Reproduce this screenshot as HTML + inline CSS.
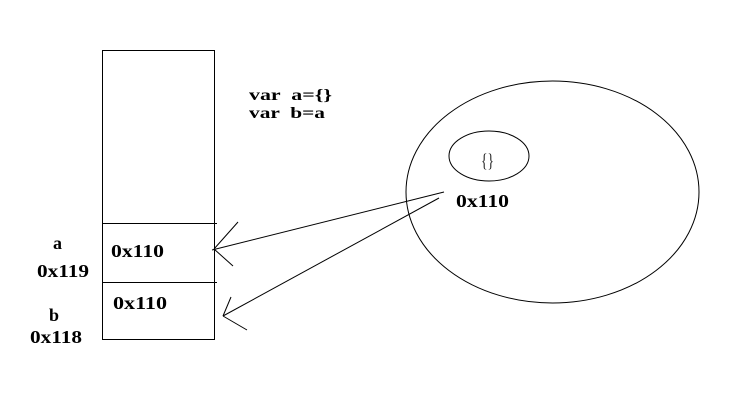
<!DOCTYPE html>
<html>
<head>
<meta charset="utf-8">
<style>
html,body{margin:0;padding:0;background:#fff;}
svg{display:block;}
</style>
</head>
<body>
<svg width="751" height="410" viewBox="0 0 751 410" xmlns="http://www.w3.org/2000/svg">
<rect x="0" y="0" width="751" height="410" fill="#fff"/>
<!-- stack -->
<rect x="102.5" y="50.5" width="112" height="289" fill="none" stroke="#000" stroke-width="1"/>
<line x1="102" y1="223.5" x2="217" y2="223.5" stroke="#000" stroke-width="1"/>
<line x1="102" y1="282.5" x2="217" y2="282.5" stroke="#000" stroke-width="1"/>

<!-- heap -->
<ellipse cx="552.5" cy="192" rx="146.5" ry="111" fill="none" stroke="#000" stroke-width="1"/>
<ellipse cx="489" cy="156" rx="40" ry="25" fill="none" stroke="#000" stroke-width="1"/>

<!-- arrows -->
<g stroke="#000" stroke-width="1" fill="none">
<line x1="444" y1="192" x2="212" y2="250"/>
<line x1="214" y1="249" x2="238" y2="222"/>
<line x1="214" y1="249" x2="233" y2="266"/>
<line x1="439" y1="198" x2="223" y2="316"/>
<line x1="223" y1="316" x2="231" y2="297"/>
<line x1="223" y1="316" x2="247" y2="330"/>
</g>

<!-- texts -->
<g font-family="'Liberation Serif', 'DejaVu Serif', serif" font-weight="bold" fill="#000">
<text x="249" y="100" font-size="16" textLength="83" lengthAdjust="spacingAndGlyphs" xml:space="preserve">var  a={}</text>
<text x="249" y="118" font-size="16" textLength="76" lengthAdjust="spacingAndGlyphs" xml:space="preserve">var  b=a</text>

<text x="111" y="257" font-size="18" textLength="53" lengthAdjust="spacingAndGlyphs">0x110</text>
<text x="113" y="309" font-size="18" textLength="54" lengthAdjust="spacingAndGlyphs">0x110</text>

<text x="53" y="249" font-size="18">a</text>
<text x="37" y="277" font-size="18" textLength="52" lengthAdjust="spacingAndGlyphs">0x119</text>
<text x="49" y="321" font-size="18">b</text>
<text x="30" y="343" font-size="18" textLength="52" lengthAdjust="spacingAndGlyphs">0x118</text>

<text x="456" y="207" font-size="18" textLength="53" lengthAdjust="spacingAndGlyphs">0x110</text>
</g>
<text x="481" y="167" font-family="'Liberation Serif', 'DejaVu Serif', serif" font-size="19" fill="#222" textLength="13" lengthAdjust="spacingAndGlyphs">{}</text>
</svg>
</body>
</html>
